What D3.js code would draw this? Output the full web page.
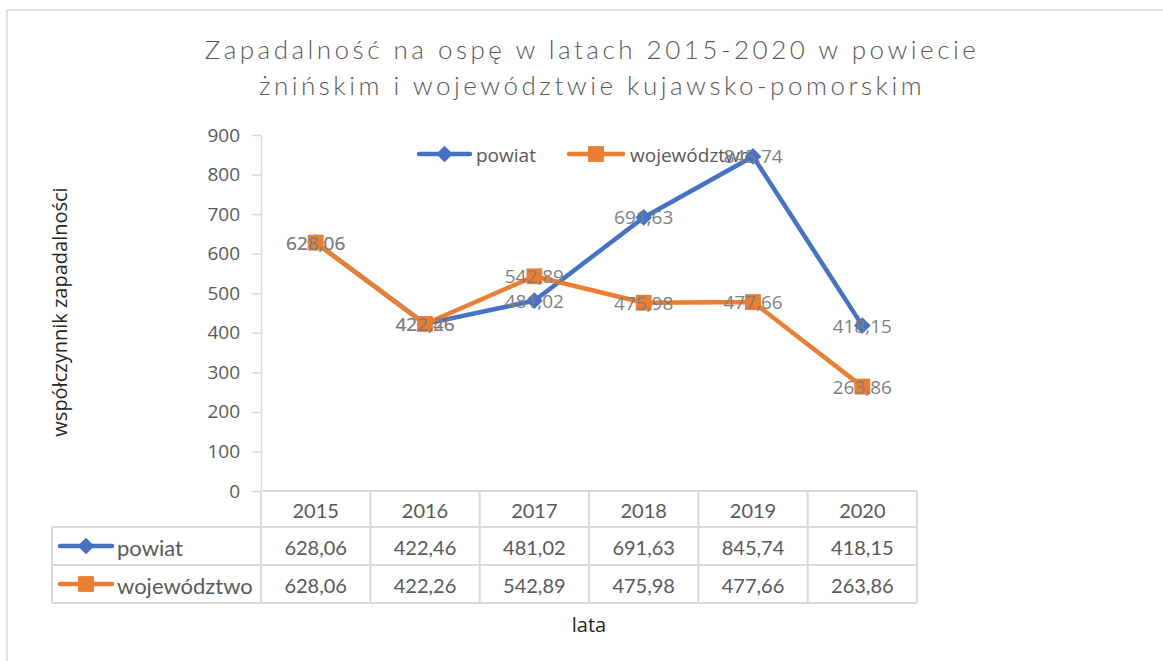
<!DOCTYPE html>
<html>
<head>
<meta charset="utf-8">
<script src="https://cdn.jsdelivr.net/npm/d3@7"></script>
<style>
  body { margin: 0; background: #fff; }
</style>
</head>
<body>
<div id="chart"></div>
<script>
/* chart data */
var years = ["2015", "2016", "2017", "2018", "2019", "2020"];
var powiat = [628.06, 422.46, 481.02, 691.63, 845.74, 418.15];
var wojewodztwo = [628.06, 422.26, 542.89, 475.98, 477.66, 263.86];
var seriesNames = ["powiat", "województwo"];
var yTicks = [0, 100, 200, 300, 400, 500, 600, 700, 800, 900];

/* size and style */
var width = 1163, height = 661;
var blue = "#4472C4", orange = "#ED7D31";
var grey = "#595959", border = "#d9d9d9";
var numFont = "'Open Sans', sans-serif";
var tblFont = "Lato, 'Open Sans', sans-serif";

var pl = d3.formatLocale({decimal: ",", thousands: " ", grouping: [3], currency: ["", " zł"]});
var fmt = pl.format(".2f");

var svg = d3.select("#chart").append("svg")
  .attr("width", width)
  .attr("height", height);

/* outer frame */
svg.append("rect")
  .attr("x", 7).attr("y", 10)
  .attr("width", width + 20).attr("height", height + 20)
  .attr("fill", "none").attr("stroke", border).attr("stroke-width", 1.5);

/* scales */
var x = d3.scaleBand().domain(years).range([261, 917]);
var y = d3.scaleLinear().domain([0, 900]).range([491, 135]);

/* title */
var title = ["Zapadalność na ospę w latach 2015-2020 w powiecie",
             "żnińskim i województwie kujawsko-pomorskim"];
title.forEach(function(t, i) {
  svg.append("text")
    .attr("x", 592).attr("y", 59 + i * 36)
    .attr("text-anchor", "middle")
    .style("font-family", tblFont)
    .style("font-weight", 300)
    .style("font-size", "26px")
    .style("letter-spacing", "3.5px")
    .style("fill", grey)
    .text(t);
});

/* y axis */
var yAxis = svg.append("g")
  .attr("transform", "translate(261,0)")
  .call(d3.axisLeft(y).tickValues(yTicks).tickSize(9).tickSizeOuter(0).tickPadding(12));
yAxis.select(".domain").attr("stroke", border).attr("stroke-width", 1.5);
yAxis.selectAll(".tick line").attr("stroke", border).attr("stroke-width", 1.5);
yAxis.selectAll(".tick text")
  .style("font-family", numFont).style("font-size", "19px").style("fill", grey);

/* axis titles */
svg.append("text")
  .attr("transform", "translate(67," + 312 + ") rotate(-90)")
  .attr("text-anchor", "middle")
  .style("font-family", numFont).style("font-size", "20px").style("fill", "#262626")
  .text("współczynnik zapadalności");

svg.append("text")
  .attr("x", 589).attr("y", 632)
  .attr("text-anchor", "middle")
  .style("font-family", numFont).style("font-size", "20px").style("fill", "#262626")
  .text("lata");

/* data table under the plot */
var rowY = [491, 527, 565, 603];
var tableLeft = 52, cx0 = x.range()[0], cx1 = x.range()[1];
var tbl = svg.append("g").attr("stroke", border).attr("stroke-width", 2);
tbl.append("line").attr("x1", cx0).attr("x2", cx1).attr("y1", rowY[0]).attr("y2", rowY[0]);
for (var r = 1; r < rowY.length; r++) {
  tbl.append("line").attr("x1", tableLeft).attr("x2", cx1).attr("y1", rowY[r]).attr("y2", rowY[r]);
}
tbl.append("line").attr("x1", tableLeft).attr("x2", tableLeft).attr("y1", rowY[1]).attr("y2", rowY[3]);
years.forEach(function(yr) {
  tbl.append("line").attr("x1", x(yr)).attr("x2", x(yr)).attr("y1", rowY[0]).attr("y2", rowY[3]);
});
tbl.append("line").attr("x1", cx1).attr("x2", cx1).attr("y1", rowY[0]).attr("y2", rowY[3]);

function cellText(cx, cy, txt, anchor, size) {
  svg.append("text")
    .attr("x", cx).attr("y", cy)
    .attr("text-anchor", anchor || "middle")
    .attr("dominant-baseline", "central")
    .style("font-family", tblFont).style("font-size", (size || 20) + "px").style("fill", grey)
    .text(txt);
}

years.forEach(function(yr) {
  cellText(x(yr) + x.bandwidth() / 2, (rowY[0] + rowY[1]) / 2 + 1, yr);
});

/* diamond = square turned by 45 degrees */
var series = [
  {name: seriesNames[0], values: powiat, color: blue, shape: d3.symbolSquare, size: 140, rot: 45},
  {name: seriesNames[1], values: wojewodztwo, color: orange, shape: d3.symbolSquare, size: 250, rot: 0}
];

/* legend key: short line with marker */
function legendKey(x0, x1, cy, s) {
  svg.append("line")
    .attr("x1", x0).attr("x2", x1).attr("y1", cy).attr("y2", cy)
    .attr("stroke", s.color).attr("stroke-width", 4.5).attr("stroke-linecap", "round");
  svg.append("path")
    .attr("d", d3.symbol().type(s.shape).size(s.size)())
    .attr("transform", "translate(" + ((x0 + x1) / 2) + "," + cy + ") rotate(" + s.rot + ")")
    .attr("fill", s.color);
}

series.forEach(function(s, i) {
  var cy = (rowY[i + 1] + rowY[i + 2]) / 2;
  legendKey(60, 112, cy, s);
  cellText(117, cy + 1, s.name, "start", 22);
  s.values.forEach(function(v, j) {
    cellText(x(years[j]) + x.bandwidth() / 2, cy + 1, fmt(v));
  });
});

/* top legend */
var legendPos = [[419, 470, 476], [569, 623, 630]];
series.forEach(function(s, i) {
  var p = legendPos[i];
  legendKey(p[0], p[1], 154, s);
  svg.append("text")
    .attr("x", p[2]).attr("y", 155)
    .attr("dominant-baseline", "central")
    .style("font-family", numFont).style("font-size", "19px").style("fill", grey)
    .text(s.name);
});

/* lines and markers */
var line = d3.line()
  .x(function(d, i) { return x(years[i]) + x.bandwidth() / 2; })
  .y(function(d) { return y(d); });

series.forEach(function(s) {
  svg.append("path")
    .attr("d", line(s.values))
    .attr("fill", "none")
    .attr("stroke", s.color)
    .attr("stroke-width", 4.5)
    .attr("stroke-linejoin", "round");
  svg.selectAll(null).data(s.values).enter().append("path")
    .attr("d", d3.symbol().type(s.shape).size(s.size)())
    .attr("transform", function(d, i) {
      return "translate(" + (x(years[i]) + x.bandwidth() / 2) + "," + y(d) + ") rotate(" + s.rot + ")";
    })
    .attr("fill", s.color);
});

/* data labels centred on the points */
series.forEach(function(s) {
  svg.selectAll(null).data(s.values).enter().append("text")
    .attr("x", function(d, i) { return x(years[i]) + x.bandwidth() / 2; })
    .attr("y", function(d) { return y(d); })
    .attr("text-anchor", "middle")
    .attr("dominant-baseline", "central")
    .style("font-family", numFont).style("font-size", "19px").style("fill", "#7f7f7f")
    .text(function(d) { return fmt(d); });
});
</script>
</body>
</html>
